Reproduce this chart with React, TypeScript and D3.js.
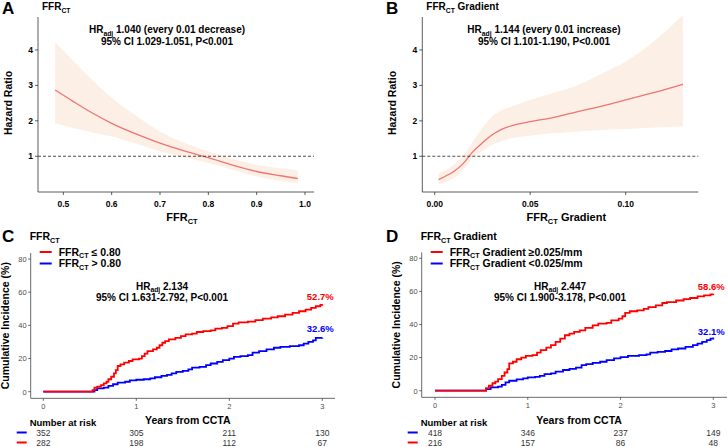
import * as d3 from 'd3';

// ---- data ----
const splineA_x = [0.483, 0.52, 0.56, 0.6, 0.65, 0.7, 0.75, 0.8, 0.85, 0.9, 0.95, 0.985];
const splineA_hr = [2.87, 2.55, 2.22, 1.93, 1.63, 1.37, 1.15, 0.96, 0.75, 0.57, 0.45, 0.37];
const splineA_lo = [1.93, 1.8, 1.67, 1.56, 1.36, 1.14, 0.97, 0.81, 0.62, 0.43, 0.3, 0.24];
const splineA_hi = [4.22, 3.7, 3.15, 2.65, 2.15, 1.7, 1.38, 1.14, 0.92, 0.76, 0.66, 0.6];

const splineB_x = [0.002, 0.006, 0.01, 0.015, 0.02, 0.025, 0.03, 0.035, 0.04, 0.05, 0.06, 0.075, 0.09, 0.1, 0.115, 0.13];
const splineB_hr = [0.34, 0.45, 0.57, 0.8, 1.13, 1.38, 1.6, 1.76, 1.86, 1.98, 2.07, 2.26, 2.45, 2.59, 2.8, 3.03];
const splineB_lo = [0.2, 0.28, 0.39, 0.63, 0.95, 1.15, 1.32, 1.43, 1.51, 1.58, 1.64, 1.7, 1.75, 1.77, 1.81, 1.84];
const splineB_hi = [0.52, 0.62, 0.76, 1.03, 1.42, 1.8, 2.12, 2.3, 2.4, 2.59, 2.75, 3.01, 3.4, 3.67, 4.25, 4.99];

const kmC_red: [number, number][] = [[0,0],[0.52,0],[0.53,1],[0.55,2.5],[0.58,3],[0.62,4],[0.65,5],[0.68,6],[0.7,7.5],[0.73,9],[0.76,11],[0.78,13],[0.8,15.5],[0.83,16.5],[0.87,17.5],[0.92,18.5],[0.96,19.5],[1.03,20],[1.06,21.5],[1.09,23],[1.12,24.5],[1.18,25.5],[1.22,26.5],[1.25,28],[1.28,29.5],[1.31,30.5],[1.35,31.5],[1.42,32.5],[1.48,33.5],[1.53,34.5],[1.6,35],[1.65,36],[1.72,36.5],[1.8,37],[1.85,38],[1.92,38.5],[1.98,39.5],[2.04,41],[2.1,41.8],[2.2,42.3],[2.28,43.2],[2.36,44],[2.45,44.8],[2.52,45.5],[2.6,46.5],[2.68,47.5],[2.75,48.5],[2.82,49.5],[2.88,50.5],[2.93,51.5],[2.98,52.3],[3.0,52.7]];
const kmC_blue: [number, number][] = [[0,0],[0.53,0],[0.55,1],[0.58,2],[0.65,2.5],[0.7,3.5],[0.75,4.5],[0.8,5.5],[0.88,6],[0.93,6.8],[1.0,7.2],[1.08,7.5],[1.15,8],[1.2,8.7],[1.27,9.5],[1.33,10.2],[1.38,11],[1.43,12],[1.5,12.5],[1.56,13.5],[1.6,14.5],[1.68,15],[1.75,16],[1.8,17],[1.87,18],[1.93,19],[2.0,20],[2.05,21],[2.12,21.5],[2.2,22],[2.25,23.5],[2.32,24.5],[2.4,25.5],[2.48,26.5],[2.55,27],[2.65,27.5],[2.75,28],[2.8,29],[2.85,30],[2.9,31],[2.93,32.5],[3.0,32.6]];
const kmD_red: [number, number][] = [[0,0],[0.52,0],[0.55,1.5],[0.58,3],[0.62,4.5],[0.65,5.5],[0.68,7],[0.72,9],[0.75,11],[0.78,13],[0.8,16.5],[0.84,17.5],[0.88,19],[0.93,20],[0.98,21],[1.05,21.5],[1.1,23],[1.14,24.5],[1.2,26],[1.25,27.5],[1.3,29.5],[1.35,31.5],[1.4,33.5],[1.45,34.5],[1.5,35.5],[1.56,36.5],[1.62,38],[1.7,39.5],[1.76,40.5],[1.85,41],[1.9,42.5],[1.98,43.5],[2.02,45],[2.05,47],[2.1,48],[2.18,48.5],[2.25,49.5],[2.3,50.5],[2.38,51.5],[2.45,53],[2.5,53.5],[2.6,54.5],[2.68,55.3],[2.75,56],[2.83,57],[2.9,57.6],[2.97,58.2],[3.0,58.6]];
const kmD_blue: [number, number][] = [[0,0],[0.52,0],[0.55,1],[0.6,2],[0.68,2.5],[0.72,3.5],[0.76,5],[0.8,6],[0.88,6.8],[0.95,7.5],[1.0,8],[1.08,8.3],[1.13,9],[1.18,10],[1.25,10.5],[1.3,11.5],[1.38,12.5],[1.45,13.2],[1.52,14],[1.58,15.5],[1.63,16],[1.7,16.8],[1.78,17.5],[1.85,18.5],[1.93,19.5],[2.0,20.3],[2.08,21],[2.2,21.5],[2.28,22],[2.32,23],[2.4,23.5],[2.48,24],[2.55,25],[2.62,25.5],[2.7,26.5],[2.78,27.5],[2.83,28.5],[2.88,29.5],[2.93,30.5],[2.97,31.5],[3.0,32.1]];

const riskYears = [0, 1, 2, 3];
const riskC_blue = [352, 305, 211, 130];
const riskC_red = [282, 198, 112, 67];
const riskD_blue = [418, 346, 237, 149];
const riskD_red = [216, 157, 86, 48];

const hrTicks = [1, 2, 3, 4];
const ffrTicks = [0.5, 0.6, 0.7, 0.8, 0.9, 1.0];
const gradTicks = [0, 0.05, 0.1];
const kmYTicks = [0, 20, 40, 60, 80];
const kmXTicks = [0, 1, 2, 3];

const FONT = 'Liberation Sans, Arial, Helvetica, sans-serif';
const RED = '#ff0000';
const BLUE = '#0000ff';
const SPLINE = '#f07474';
const BAND = '#fcefe5';

// text with a subscript, e.g. FFR_CT; size is the parent font size in px
function Sub({ main, sub, after = '', size }: { main: string; sub: string; after?: string; size: number }) {
  const shift = size * 0.28;
  return (
    <>
      <tspan>{main}</tspan>
      <tspan fontSize={size * 0.68} dy={shift}>{sub}</tspan>
      <tspan dy={-shift}>{after}</tspan>
    </>
  );
}

interface SplineProps {
  letter: string;
  title: string;
  xs: number[];
  hr: number[];
  lo: number[];
  hi: number[];
  xDomain: [number, number];
  xRange: [number, number];
  xTicks: number[];
  xFmt: (d: number) => string;
  xTitleAfter: string;
  note1: string;
  note2: string;
  noteX: number;
  left: number;
}

function SplinePanel(p: SplineProps) {
  const x = d3.scaleLinear().domain(p.xDomain).range(p.xRange);
  const y = d3.scaleLinear().domain([0, 4.93]).range([191.7, 17]);
  const idx = p.xs.map((_, i) => i);
  const area = d3
    .area<number>()
    .x((i) => x(p.xs[i]))
    .y0((i) => y(p.lo[i]))
    .y1((i) => y(p.hi[i]))
    .curve(d3.curveMonotoneX);
  const ln = d3
    .line<number>()
    .x((i) => x(p.xs[i]))
    .y((i) => y(p.hr[i]))
    .curve(d3.curveMonotoneX);
  const [x0, x1] = p.xRange;
  const yb = 192;
  return (
    <g fontFamily={FONT}>
      <text x={p.left} y={14} fontSize={17} fontWeight="bold">{p.letter}</text>
      <text x={x0 + 4} y={10} fontSize={10} fontWeight="bold">
        <Sub main="FFR" sub="CT" after={p.title} size={10} />
      </text>
      <path d={area(idx) ?? ''} fill={BAND} />
      <path d={ln(idx) ?? ''} fill="none" stroke={SPLINE} strokeWidth={1.3} />
      <line x1={x0} x2={x1} y1={y(1)} y2={y(1)} stroke="#222" strokeWidth={0.8} strokeDasharray="3,2" />
      <line x1={x0} x2={x0} y1={17} y2={yb} stroke="#333" strokeWidth={0.8} />
      <line x1={x0} x2={x1} y1={yb} y2={yb} stroke="#333" strokeWidth={0.8} />
      {hrTicks.map((t) => (
        <g key={t}>
          <line x1={x0 - 3} x2={x0} y1={y(t)} y2={y(t)} stroke="#333" strokeWidth={0.8} />
          <text x={x0 - 5} y={y(t) + 3} fontSize={8.5} fontWeight="bold" textAnchor="end">{t}</text>
        </g>
      ))}
      {p.xTicks.map((t) => (
        <g key={t}>
          <line x1={x(t)} x2={x(t)} y1={yb} y2={yb + 3} stroke="#333" strokeWidth={0.8} />
          <text x={x(t)} y={yb + 15} fontSize={8.5} fontWeight="bold" textAnchor="middle">{p.xFmt(t)}</text>
        </g>
      ))}
      <text x={(x0 + x1) / 2 + 6} y={221} fontSize={11} fontWeight="bold" textAnchor="middle">
        <Sub main="FFR" sub="CT" after={p.xTitleAfter} size={11} />
      </text>
      <text transform={`translate(${x0 - 26},103) rotate(-90)`} fontSize={10.5} fontWeight="bold" textAnchor="middle">Hazard Ratio</text>
      <text x={p.noteX} y={33} fontSize={10} fontWeight="bold" textAnchor="middle">
        <Sub main="HR" sub="adj" after={' ' + p.note1} size={10} />
      </text>
      <text x={p.noteX} y={45} fontSize={10} fontWeight="bold" textAnchor="middle">{p.note2}</text>
    </g>
  );
}

interface KMProps {
  letter: string;
  left: number;
  axisX: number;
  x0: number;
  x3: number;
  y0: number;
  y80: number;
  right: number;
  title: string;
  legRed: string;
  legBlue: string;
  red: [number, number][];
  blue: [number, number][];
  hr: string;
  ci: string;
  noteX: number;
  riskBlue: number[];
  riskRed: number[];
  endRedY: number;
  endBlueY: number;
}

function KMPanel(p: KMProps) {
  const x = d3.scaleLinear().domain([0, 3]).range([p.x0, p.x3]);
  const y = d3.scaleLinear().domain([0, 80]).range([p.y0, p.y80]);
  const step = d3
    .line<[number, number]>()
    .x((d) => x(d[0]))
    .y((d) => y(d[1]))
    .curve(d3.curveStepAfter);
  const yTop = y(83.6);
  const yBot = y(-4);
  const lastR = p.red[p.red.length - 1];
  const lastB = p.blue[p.blue.length - 1];
  const ax = p.axisX;
  return (
    <g fontFamily={FONT}>
      <text x={p.left} y={242} fontSize={17} fontWeight="bold">{p.letter}</text>
      <text x={ax - 1} y={240} fontSize={10.5} fontWeight="bold">
        <Sub main="FFR" sub="CT" after={p.title} size={10.5} />
      </text>
      <line x1={ax + 9} x2={ax + 21} y1={252} y2={252} stroke={RED} strokeWidth={2} />
      <text x={ax + 28} y={255.5} fontSize={10.5} fontWeight="bold">
        <Sub main="FFR" sub="CT" after={p.legRed} size={10.5} />
      </text>
      <line x1={ax + 9} x2={ax + 21} y1={263.5} y2={263.5} stroke={BLUE} strokeWidth={2} />
      <text x={ax + 28} y={267} fontSize={10.5} fontWeight="bold">
        <Sub main="FFR" sub="CT" after={p.legBlue} size={10.5} />
      </text>
      <line x1={ax} x2={ax} y1={yTop} y2={yBot} stroke="#444" strokeWidth={0.8} />
      <line x1={ax} x2={p.right} y1={yBot} y2={yBot} stroke="#444" strokeWidth={0.8} />
      {kmYTicks.map((t) => (
        <g key={t}>
          <line x1={ax - 2.5} x2={ax} y1={y(t)} y2={y(t)} stroke="#444" strokeWidth={0.8} />
          <text x={ax - 4} y={y(t) + 2.8} fontSize={7.5} fill="#4d4d4d" textAnchor="end">{t}</text>
        </g>
      ))}
      {kmXTicks.map((t) => (
        <g key={t}>
          <line x1={x(t)} x2={x(t)} y1={yBot} y2={yBot + 2.5} stroke="#444" strokeWidth={0.8} />
          <text x={x(t)} y={yBot + 11} fontSize={7.5} fill="#4d4d4d" textAnchor="middle">{t}</text>
        </g>
      ))}
      <path d={step(p.blue) ?? ''} fill="none" stroke={BLUE} strokeWidth={1.8} />
      <path d={step(p.red) ?? ''} fill="none" stroke={RED} strokeWidth={1.8} />
      <text x={x(lastR[0]) - 2} y={p.endRedY} fontSize={9.5} fontWeight="bold" fill={RED} textAnchor="middle">{lastR[1].toFixed(1)}%</text>
      <text x={x(lastB[0]) - 2} y={p.endBlueY} fontSize={9.5} fontWeight="bold" fill={BLUE} textAnchor="middle">{lastB[1].toFixed(1)}%</text>
      <text x={p.noteX} y={289.5} fontSize={10} fontWeight="bold" textAnchor="middle">
        <Sub main="HR" sub="adj" after={' ' + p.hr} size={10} />
      </text>
      <text x={p.noteX} y={301} fontSize={10} fontWeight="bold" textAnchor="middle">{p.ci}</text>
      <text transform={`translate(${ax - 22},${(yTop + yBot) / 2}) rotate(-90)`} fontSize={10.5} fontWeight="bold" textAnchor="middle">Cumulative Incidence (%)</text>
      <text x={(p.x0 + p.x3) / 2 + 5} y={424} fontSize={10.5} fontWeight="bold" textAnchor="middle">Years from CCTA</text>
      <text x={ax - 1} y={426} fontSize={9.5} fontWeight="bold">Number at risk</text>
      <line x1={ax - 14} x2={ax - 4} y1={432.5} y2={432.5} stroke={BLUE} strokeWidth={2} />
      <line x1={ax - 14} x2={ax - 4} y1={442.5} y2={442.5} stroke={RED} strokeWidth={2} />
      {riskYears.map((t, i) => (
        <g key={t}>
          <text x={x(t)} y={436} fontSize={8.5} fill="#333" textAnchor="middle">{p.riskBlue[i]}</text>
          <text x={x(t)} y={446} fontSize={8.5} fill="#333" textAnchor="middle">{p.riskRed[i]}</text>
        </g>
      ))}
    </g>
  );
}

export default function App() {
  return (
    <svg width={728} height={447} style={{ position: 'absolute', left: 0, top: 0, background: '#fff' }}>
      <SplinePanel
        letter="A"
        title=""
        xs={splineA_x}
        hr={splineA_hr}
        lo={splineA_lo}
        hi={splineA_hi}
        xDomain={[0.4476, 1.0186]}
        xRange={[38, 314]}
        xTicks={ffrTicks}
        xFmt={d3.format('.1f')}
        xTitleAfter=""
        note1="1.040 (every 0.01 decrease)"
        note2="95% CI 1.029-1.051, P<0.001"
        noteX={167}
        left={2}
      />
      <SplinePanel
        letter="B"
        title=" Gradient"
        xs={splineB_x}
        hr={splineB_hr}
        lo={splineB_lo}
        hi={splineB_hi}
        xDomain={[-0.0065, 0.138]}
        xRange={[422.3, 698.3]}
        xTicks={gradTicks}
        xFmt={d3.format('.2f')}
        xTitleAfter=" Gradient"
        note1="1.144 (every 0.01 increase)"
        note2="95% CI 1.101-1.190, P<0.001"
        noteX={544}
        left={386}
      />
      <KMPanel
        letter="C"
        left={2}
        axisX={30.7}
        x0={43.3}
        x3={322.3}
        y0={391.7}
        y80={259}
        right={335}
        title=""
        legRed=" ≤ 0.80"
        legBlue=" > 0.80"
        red={kmC_red}
        blue={kmC_blue}
        hr="2.134"
        ci="95% CI 1.631-2.792, P<0.001"
        noteX={162}
        riskBlue={riskC_blue}
        riskRed={riskC_red}
        endRedY={300}
        endBlueY={331.5}
      />
      <KMPanel
        letter="D"
        left={386}
        axisX={421.7}
        x0={435}
        x3={713.3}
        y0={390.7}
        y80={258.3}
        right={727}
        title=" Gradient"
        legRed=" Gradient ≥0.025/mm"
        legBlue=" Gradient <0.025/mm"
        red={kmD_red}
        blue={kmD_blue}
        hr="2.447"
        ci="95% CI 1.900-3.178, P<0.001"
        noteX={560}
        riskBlue={riskD_blue}
        riskRed={riskD_red}
        endRedY={290}
        endBlueY={334.5}
      />
    </svg>
  );
}
